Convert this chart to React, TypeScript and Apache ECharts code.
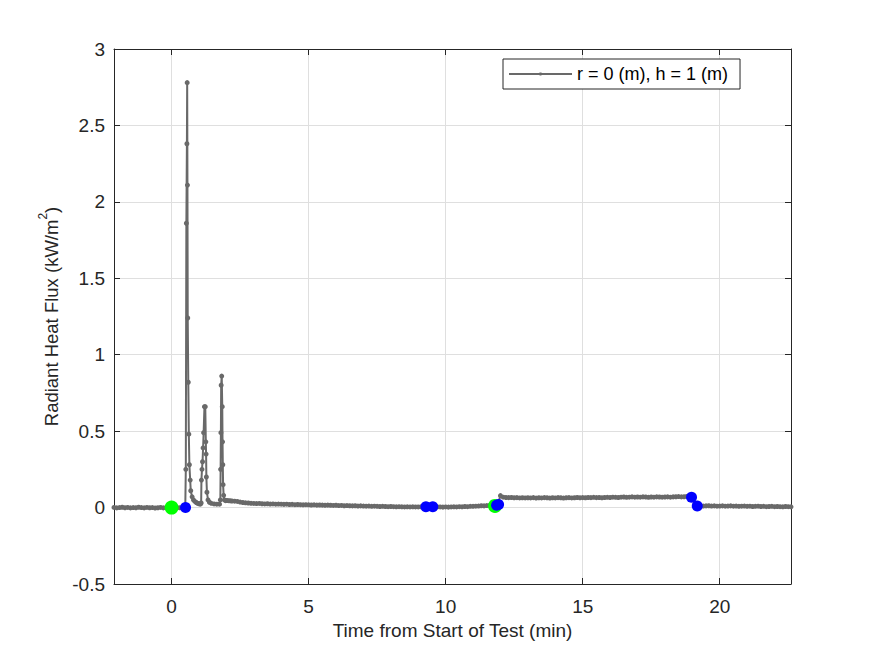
import React, { useEffect, useRef } from "react";
import * as echarts from "echarts";

// Radiant heat flux gauge at r = 0 m, h = 1 m, sampled every 0.1 min outside the
// ignition transient; the transient itself is listed point by point.
const SAMPLE_STEP = 0.1;

const PRE_START = -2.1;
const preValues = [
  0.001, -0.002, 0.0, 0.002, -0.001, 0.001, -0.002, 0.0, -0.001, 0.002,
  0.0, -0.002, 0.001, -0.001, 0.0, -0.003, -0.001, 0.001, -0.002, 0.0,
  -0.001, 0.001, -0.002, 0.0, -0.001, 0.001,
];

const transientTimes = [
  0.5, 0.52, 0.54, 0.56, 0.57, 0.58, 0.59, 0.61, 0.63, 0.65, 0.68, 0.7,
  0.75, 0.8, 0.85, 0.9, 0.95, 1.0, 1.05, 1.08, 1.09, 1.11, 1.13, 1.15,
  1.17, 1.2, 1.23, 1.25, 1.26, 1.27, 1.29, 1.33, 1.38, 1.45, 1.55, 1.65,
  1.75, 1.78, 1.79, 1.8, 1.81, 1.83, 1.85, 1.86, 1.87, 1.88, 1.9, 1.93,
  1.97, 2.02, 2.08, 2.14,
];
const transientValues = [
  0.001, 0.25, 1.86, 2.38, 2.78, 2.11, 1.24, 0.82, 0.48, 0.28, 0.18, 0.11,
  0.07, 0.05, 0.04, 0.033, 0.028, 0.025, 0.022, 0.03, 0.18, 0.25, 0.3, 0.39,
  0.49, 0.66, 0.66, 0.43, 0.35, 0.2, 0.1, 0.05, 0.035, 0.028, 0.024, 0.022,
  0.022, 0.05, 0.25, 0.49, 0.8, 0.86, 0.66, 0.43, 0.28, 0.15, 0.08, 0.05,
  0.045, 0.046, 0.045, 0.044,
];

const POST_START = 2.2;
const postValues = [
  0.043, 0.042, 0.04, 0.036, 0.033, 0.031, 0.03, 0.028,
  0.027, 0.026, 0.027, 0.025, 0.024, 0.025, 0.023, 0.024, 0.022, 0.023,
  0.022, 0.021, 0.022, 0.02, 0.021, 0.019, 0.02, 0.019, 0.018, 0.019,
  0.018, 0.017, 0.018, 0.016, 0.017, 0.016, 0.015, 0.016, 0.015, 0.014,
  0.015, 0.013, 0.014, 0.012, 0.013, 0.012, 0.011, 0.012, 0.01, 0.011,
  0.01, 0.009, 0.01, 0.008, 0.009, 0.008, 0.007, 0.008, 0.007, 0.006,
  0.007, 0.006, 0.005, 0.006, 0.005, 0.004, 0.005, 0.004, 0.005, 0.004,
  0.004, 0.005, 0.004, 0.005, 0.006, 0.005, 0.004, 0.005, 0.004, 0.003,
  0.004, 0.003, 0.004, 0.005, 0.004, 0.006, 0.005, 0.007, 0.006, 0.008,
  0.008, 0.009, 0.01, 0.012, 0.011, 0.013, 0.014, 0.015, 0.013, 0.02,
  0.078, 0.068, 0.066, 0.065, 0.066, 0.064, 0.065, 0.063, 0.064, 0.063,
  0.064, 0.063, 0.065, 0.062, 0.064, 0.063, 0.065, 0.064, 0.062, 0.064,
  0.063, 0.065, 0.064, 0.062, 0.064, 0.065, 0.063, 0.064, 0.066, 0.064,
  0.065, 0.064, 0.066, 0.065, 0.067, 0.065, 0.066, 0.064, 0.066, 0.067,
  0.066, 0.068, 0.067, 0.066, 0.068, 0.069, 0.067, 0.068, 0.07, 0.068,
  0.069, 0.068, 0.07, 0.069, 0.067, 0.069, 0.068, 0.07, 0.069, 0.068,
  0.069, 0.07, 0.068, 0.07, 0.071, 0.072, 0.07, 0.071, 0.073, 0.071,
  0.068, 0.03, 0.011, 0.012, 0.01, 0.011, 0.012, 0.01, 0.011, 0.009,
  0.01, 0.011, 0.009, 0.01, 0.011, 0.009, 0.01, 0.008, 0.009, 0.01,
  0.008, 0.009, 0.007, 0.008, 0.009, 0.007, 0.008, 0.006, 0.007, 0.008,
  0.006, 0.007, 0.006, 0.005, 0.007, 0.006, 0.005,
];

// Event markers (ignition / transition times)
const greenEvents: [number, number][] = [
  [0, 0],
  [11.8, 0.011],
];
const blueEvents: [number, number][] = [
  [0.51, 0],
  [9.28, 0.006],
  [9.53, 0.006],
  [11.86, 0.015],
  [11.93, 0.02],
  [18.97, 0.068],
  [19.18, 0.01],
];

const X_TICKS = [0, 5, 10, 15, 20];
const X_MIN = -2.1;
const X_MAX = 22.6;
const Y_MIN = -0.5;
const Y_MAX = 3;
const Y_STEP = 0.5;

const SERIES_NAME = "r = 0 (m), h = 1 (m)";

const round2 = (v: number) => Math.round(v * 100) / 100;

function buildSeries(): [number, number][] {
  const pts: [number, number][] = [];
  preValues.forEach((v, i) => pts.push([round2(PRE_START + i * SAMPLE_STEP), v]));
  transientTimes.forEach((t, i) => pts.push([t, transientValues[i]]));
  postValues.forEach((v, i) => pts.push([round2(POST_START + i * SAMPLE_STEP), v]));
  return pts;
}

const FONT = "'Liberation Sans', Arial, Helvetica, sans-serif";
const INK = "#262626";
const GRID_LINE = "#dfdfdf";
const TRACE = "#696969";

export default function App() {
  const ref = useRef<HTMLDivElement>(null);

  useEffect(() => {
    if (!ref.current) return;
    const chart = echarts.init(ref.current, undefined, { renderer: "svg" });

    const boxAxis = {
      axisLine: { show: true, onZero: false, lineStyle: { color: INK, width: 1 } },
      axisTick: { show: true, inside: true, length: 6, lineStyle: { color: INK } },
    };

    chart.setOption({
      animation: false,
      backgroundColor: "#ffffff",
      textStyle: { fontFamily: FONT },
      grid: { left: 114, top: 49, right: 84, bottom: 72 },
      legend: {
        data: [SERIES_NAME],
        left: 503,
        top: 59,
        orient: "horizontal",
        backgroundColor: "#ffffff",
        borderColor: INK,
        borderWidth: 1,
        padding: [5, 12, 5, 5],
        itemWidth: 63,
        itemHeight: 4,
        itemGap: 5,
        textStyle: { fontSize: 18, color: "#000000", fontFamily: FONT, lineHeight: 20 },
      },
      xAxis: [
        {
          type: "value",
          position: "bottom",
          min: X_MIN,
          max: X_MAX,
          ...boxAxis,
          axisTick: { ...boxAxis.axisTick, customValues: X_TICKS },
          axisLabel: {
            customValues: X_TICKS,
            fontSize: 19,
            color: INK,
            fontFamily: FONT,
            margin: 13,
          },
          splitLine: { show: true, lineStyle: { color: GRID_LINE, width: 1 } },
          name: "Time from Start of Test (min)",
          nameLocation: "middle",
          nameGap: 37,
          nameTextStyle: { fontSize: 19, color: INK, fontFamily: FONT, verticalAlign: "top" },
        },
        {
          type: "value",
          position: "top",
          min: X_MIN,
          max: X_MAX,
          ...boxAxis,
          axisTick: { ...boxAxis.axisTick, customValues: X_TICKS },
          axisLabel: { show: false },
          splitLine: { show: false },
        },
      ],
      yAxis: [
        {
          type: "value",
          position: "left",
          min: Y_MIN,
          max: Y_MAX,
          interval: Y_STEP,
          ...boxAxis,
          axisLabel: { fontSize: 19, color: INK, fontFamily: FONT, margin: 9 },
          splitLine: { show: true, lineStyle: { color: GRID_LINE, width: 1 } },
          name: "{a|Radiant Heat Flux (kW/m}{s|2}{a|)}",
          nameLocation: "middle",
          nameGap: 52,
          nameTextStyle: {
            color: INK,
            fontFamily: FONT,
            rich: {
              a: { fontSize: 18.5, color: INK, fontFamily: FONT, lineHeight: 24, verticalAlign: "bottom" },
              s: { fontSize: 12, color: INK, fontFamily: FONT, lineHeight: 24, verticalAlign: "top" },
            },
          },
        },
        {
          type: "value",
          position: "right",
          min: Y_MIN,
          max: Y_MAX,
          interval: Y_STEP,
          ...boxAxis,
          axisLabel: { show: false },
          splitLine: { show: false },
        },
      ],
      series: [
        {
          name: SERIES_NAME,
          type: "line",
          xAxisIndex: 0,
          yAxisIndex: 0,
          data: buildSeries(),
          symbol: "circle",
          symbolSize: 5,
          showAllSymbol: true,
          itemStyle: { color: TRACE },
          lineStyle: { color: TRACE, width: 2 },
          emphasis: { disabled: true },
          z: 2,
        },
        {
          name: "start",
          type: "scatter",
          data: greenEvents,
          symbol: "circle",
          symbolSize: 14,
          itemStyle: { color: "#00ff00", opacity: 1 },
          emphasis: { disabled: true },
          z: 3,
        },
        {
          name: "event",
          type: "scatter",
          data: blueEvents,
          symbol: "circle",
          symbolSize: 11,
          itemStyle: { color: "#0000ff", opacity: 1 },
          emphasis: { disabled: true },
          z: 4,
        },
      ],
    });

    return () => chart.dispose();
  }, []);

  return (
    <div
      ref={ref}
      style={{ position: "fixed", left: 0, top: 0, width: 875, height: 656, background: "#fff" }}
    />
  );
}
